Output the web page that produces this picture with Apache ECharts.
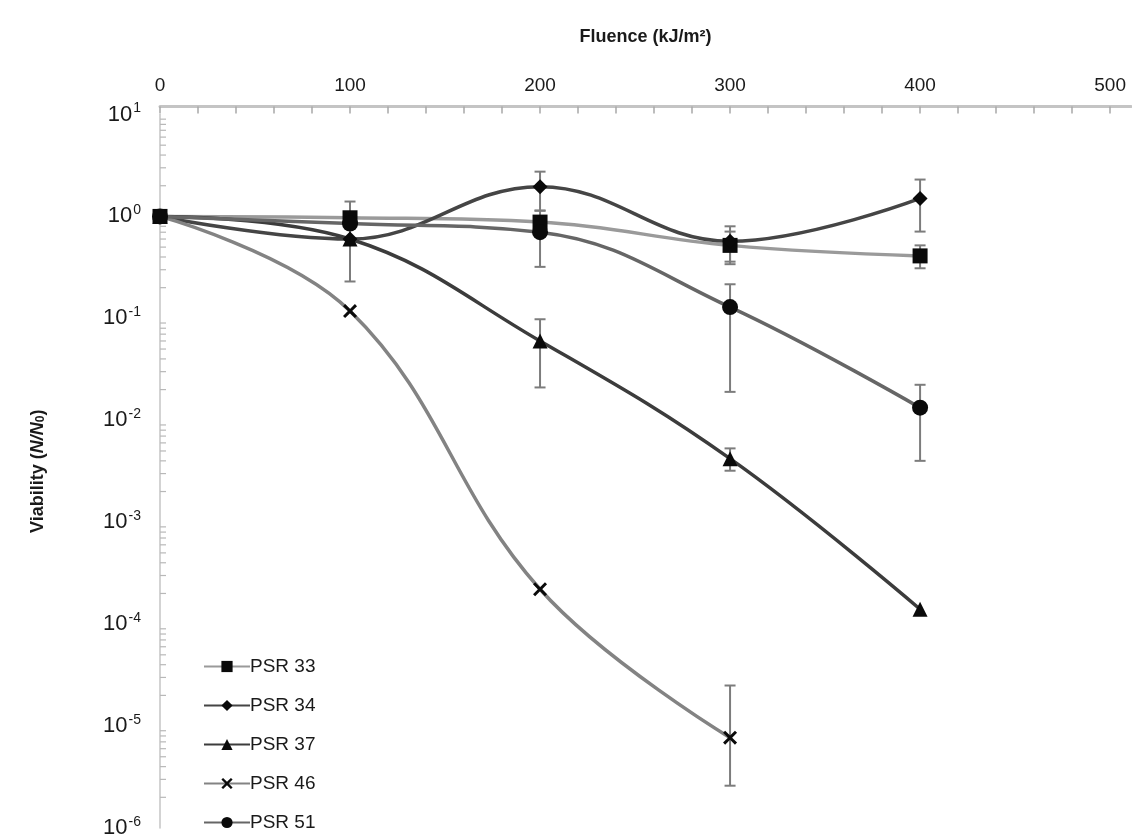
<!DOCTYPE html>
<html>
<head>
<meta charset="utf-8">
<title>Viability vs fluence</title>
<script src="https://cdn.jsdelivr.net/npm/echarts@6/dist/echarts.min.js"></script>
<style>
  html, body { margin: 0; padding: 0; background: #ffffff; }
  #chart { width: 1132px; height: 839px; }
</style>
</head>
<body>
<div id="chart"></div>
<script>
// Fluence doses (kJ/m²)
const fluence = [0, 100, 200, 300, 400];

// Viability N/N0 for each strain
const psr33 = [1, 0.97, 0.88, 0.52, 0.41];
const psr34 = [1, 0.6, 1.96, 0.57, 1.5];
const psr37 = [1, 0.6, 0.06, 0.0042, 0.00014];
const psr46 = [1, 0.118, 0.00022, 0.0000077, null];
const psr51 = [1, 0.85, 0.70, 0.129, 0.0133];

// Error bars: [fluence, low, high]
const err33 = [[300, 0.36, 0.71], [400, 0.31, 0.52]];
const err34 = [[100, 0.23, 1.40], [200, 1.14, 2.75], [300, 0.34, 0.80], [400, 0.71, 2.3]];
const err37 = [[200, 0.021, 0.098], [300, 0.0032, 0.0053]];
const err46 = [[300, 0.0000026, 0.000025]];
const err51 = [[200, 0.32, 1.14], [300, 0.019, 0.216], [400, 0.0040, 0.0223]];

// Decades shown on the viability axis
const yMin = 1e-6;
const yMax = 10;
const xTickLabels = [0, 100, 200, 300, 400, 500];

const FONT = '"Liberation Sans", Arial, Helvetica, sans-serif';

function pairs(values) {
  return fluence.map((x, i) => [x, values[i]]).filter(p => p[1] !== null);
}

// Log minor tick values (2..9 × 10^k) along the left axis
const minorTickValues = [];
for (let k = -6; k <= 0; k++) {
  for (let m = 2; m <= 9; m++) minorTickValues.push([0, m * Math.pow(10, k)]);
}

const allErrors = [].concat(err33, err34, err37, err46, err51);

// Filled "×" marker
const crossPath = 'path://M0,1.5 L1.5,0 L5,3.5 L8.5,0 L10,1.5 L6.5,5 L10,8.5 L8.5,10 L5,6.5 L1.5,10 L0,8.5 L3.5,5 Z';

function lineSeries(name, values, color, symbol, size) {
  return {
    name: name,
    type: 'line',
    data: pairs(values),
    smooth: 0.4,
    symbol: symbol,
    symbolSize: size,
    showAllSymbol: true,
    lineStyle: { color: color, width: 3.5 },
    itemStyle: { color: '#0a0a0a', borderColor: '#0a0a0a', borderWidth: 0 },
    emphasis: { disabled: true },
    z: 3
  };
}

const chart = echarts.init(document.getElementById('chart'), null, { renderer: 'canvas' });

chart.setOption({
  animation: false,
  backgroundColor: '#ffffff',
  textStyle: { fontFamily: FONT },
  grid: { left: 160, right: 1, top: 114.5, bottom: 7, containLabel: false },
  legend: {
    orient: 'vertical',
    left: 198,
    top: 652,
    itemWidth: 46,
    itemHeight: 14,
    itemGap: 20,
    textStyle: { fontFamily: FONT, fontSize: 19, color: '#1a1a1a', padding: [0, 0, 0, -5] },
    data: ['PSR 33', 'PSR 34', 'PSR 37', 'PSR 46', 'PSR 51']
  },
  xAxis: {
    type: 'value',
    position: 'top',
    offset: 8,
    min: 0,
    max: 511,
    interval: 20,
    name: 'Fluence (kJ/m²)',
    nameLocation: 'middle',
    nameGap: 60,
    nameTextStyle: { fontFamily: FONT, fontSize: 18, fontWeight: 'bold', color: '#1a1a1a' },
    axisLine: { show: true, lineStyle: { color: '#c4c4c4', width: 3 } },
    axisTick: { show: true, inside: true, length: 7, lineStyle: { color: '#a8a8a8', width: 1.5 } },
    axisLabel: {
      margin: 11,
      fontFamily: FONT,
      fontSize: 19,
      color: '#1a1a1a',
      showMaxLabel: false,
      formatter: v => (xTickLabels.indexOf(v) >= 0 ? String(v) : '')
    },
    splitLine: { show: false }
  },
  yAxis: {
    type: 'log',
    logBase: 10,
    min: yMin,
    max: yMax,
    name: '{a|Viability (}{i|N/N}{s|0}{a|)}',
    nameLocation: 'middle',
    nameRotate: 90,
    nameGap: 113,
    nameTextStyle: {
      rich: {
        a: { fontFamily: FONT, fontSize: 18, fontWeight: 'bold', color: '#1a1a1a' },
        i: { fontFamily: FONT, fontSize: 18, fontWeight: 'bold', fontStyle: 'italic', color: '#1a1a1a' },
        s: { fontFamily: FONT, fontSize: 12, fontWeight: 'bold', color: '#1a1a1a', verticalAlign: 'bottom', padding: [6, 0, 0, 0] }
      }
    },
    axisLine: { show: true, lineStyle: { color: '#c4c4c4', width: 1.5 } },
    axisTick: { show: false },
    splitLine: { show: false },
    axisLabel: {
      margin: 19,
      formatter: function (v) {
        const e = Math.round(Math.log10(v));
        return '{b|10}{s|' + e + '}';
      },
      rich: {
        b: { fontFamily: FONT, fontSize: 22, color: '#1a1a1a', lineHeight: 26 },
        s: { fontFamily: FONT, fontSize: 14, color: '#1a1a1a', verticalAlign: 'top', lineHeight: 15, padding: [0, 0, 0, 1] }
      }
    }
  },
  series: [
    {
      name: 'minorTicks',
      type: 'custom',
      data: minorTickValues,
      silent: true,
      clip: false,
      z: 1,
      renderItem: function (params, api) {
        const p = api.coord([api.value(0), api.value(1)]);
        return {
          type: 'line',
          shape: { x1: p[0], y1: p[1], x2: p[0] + 6, y2: p[1] },
          style: { stroke: '#b8b8b8', lineWidth: 1.2 }
        };
      }
    },
    {
      name: 'errorBars',
      type: 'custom',
      data: allErrors,
      silent: true,
      z: 2,
      renderItem: function (params, api) {
        const lo = api.coord([api.value(0), api.value(1)]);
        const hi = api.coord([api.value(0), api.value(2)]);
        const w = 5.5;
        const st = { stroke: '#7c7c7c', lineWidth: 2 };
        return {
          type: 'group',
          children: [
            { type: 'line', shape: { x1: lo[0], y1: lo[1], x2: hi[0], y2: hi[1] }, style: st },
            { type: 'line', shape: { x1: lo[0] - w, y1: lo[1], x2: lo[0] + w, y2: lo[1] }, style: st },
            { type: 'line', shape: { x1: hi[0] - w, y1: hi[1], x2: hi[0] + w, y2: hi[1] }, style: st }
          ]
        };
      }
    },
    lineSeries('PSR 33', psr33, '#9a9a9a', 'rect', 15),
    lineSeries('PSR 34', psr34, '#454545', 'diamond', 15),
    lineSeries('PSR 37', psr37, '#3c3c3c', 'triangle', 15),
    lineSeries('PSR 46', psr46, '#838383', crossPath, 14),
    lineSeries('PSR 51', psr51, '#666666', 'circle', 16)
  ]
});
</script>
</body>
</html>
